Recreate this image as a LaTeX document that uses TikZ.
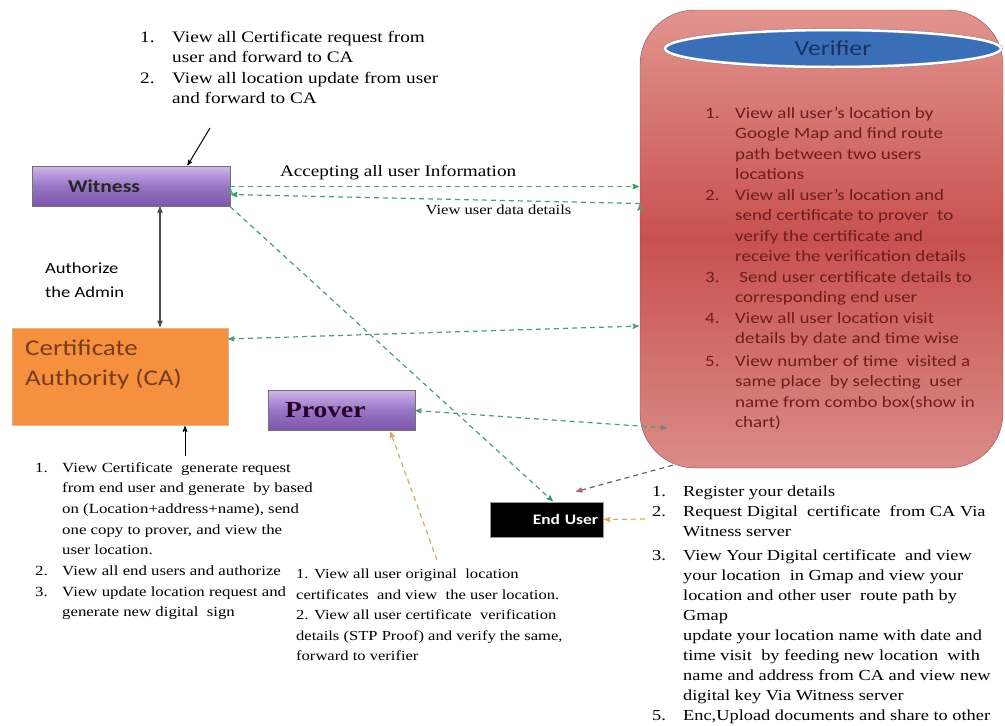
\documentclass[tikz,border=0pt]{standalone}
\usepackage{fontspec}
\setmainfont{Liberation Serif}[FakeStretch=1.2]
\setsansfont{Carlito}[FakeStretch=1.2]
\usepackage{tikz}
\usetikzlibrary{arrows, calc, shapes.geometric}
\definecolor{flowgreen}{HTML}{4E9A84}
\definecolor{tipgreen}{HTML}{22A060}
\definecolor{floworange}{HTML}{D9A860}
\definecolor{verifiertext}{HTML}{6E1C1C}
\definecolor{catext}{HTML}{7A3A1C}
\definecolor{violettop}{HTML}{CDB5E8}
\definecolor{violetmid}{HTML}{9873C6}
\definecolor{violetbot}{HTML}{7A55A8}
\definecolor{redtop}{HTML}{E2948F}
\definecolor{redmid}{HTML}{C8514E}
\definecolor{redbot}{HTML}{DA8C88}
\definecolor{verifierblue}{HTML}{3A6EB6}
\definecolor{verifierink}{HTML}{1A3260}
\newcommand{\nitem}[2][30pt]{\makebox[#1][l]{#2}}
\newcommand{\nskip}[1][30pt]{\hspace*{#1}}
\tikzset{serif list/.style={font=\fontsize{16}{20.5}\selectfont,align=left,inner sep=0pt,anchor=north west}}
\tikzset{sans list/.style={font=\sffamily\fontsize{15.8}{20.5}\selectfont,align=left,inner sep=0pt,anchor=north west}}
\tikzset{purple box/.style={draw=black!55,top color=violettop,bottom color=violetbot,middle color=violetmid,minimum height=40pt,inner ysep=0pt,align=left}}
\tikzset{flow/.style={draw=flowgreen,dashed,line width=1.2pt,dash pattern=on 5pt off 4pt}}

\begin{document}
\begin{tikzpicture}[x=1pt,y=-1pt,>=stealth',shorten >=1pt]
                    \useasboundingbox (0,0) rectangle (1005,726);

                    \node[draw=red!40!black!70,rounded corners=55pt,minimum width=363pt,minimum height=458pt,
                          top color=redtop,bottom color=redbot,middle color=redmid](V) at (821.5,239){};
                    \node[ellipse,draw=verifierink!60,double=white,double distance=2.5pt,fill=verifierblue,minimum width=336pt,minimum height=37pt,inner sep=0pt,
                          font=\sffamily\fontsize{21.5}{24}\selectfont,text=verifierink](VE) at (833,48.5){Verifier};
                    \node[sans list,text=verifiertext](Vt) at (705,107){%
                        \nitem{1.}View all user's location by\\
                        \nskip Google Map and find route\\
                        \nskip path between two users\\
                        \nskip locations\\
                        \nitem{2.}View all user's location and\\
                        \nskip send certificate to prover\ \ to\\
                        \nskip verify the certificate and\\
                        \nskip receive the verification details\\
                        \nitem{3.}\ Send user certificate details to\\
                        \nskip corresponding end user\\
                        \nitem{4.}View all user location visit\\
                        \nskip details by date and time wise\\[2pt]
                        \nitem{5.}View number of time\ \ visited a\\
                        \nskip same place\ \ by selecting\ \ user\\
                        \nskip name from combo box(show in\\
                        \nskip chart)};

                    \node[purple box,minimum width=198pt,text width=126pt,inner xsep=36pt,
                          font=\sffamily\bfseries\fontsize{18}{20}\selectfont,text=black!85](W) at (131,186.5){Witness};
                    \node[serif list](Wt) at (140,31){%
                        \nitem[32pt]{1.}View all Certificate request from\\
                        \nskip[32pt]user and forward to CA\\
                        \nitem[32pt]{2.}View all location update from user\\
                        \nskip[32pt]and forward to CA};
                    \coordinate (wnote) at (210,128);

                    \node[draw=orange!60!black!40,fill={rgb,255:red,245;green,145;blue,62},minimum width=216pt,minimum height=97pt](CA) at (120,376.5){};
                    \node[anchor=west,inner sep=0pt,align=left,text=catext,font=\sffamily\fontsize{22.5}{30}\selectfont](CAt) at (25,365){Certificate\\Authority (CA)};
                    \node[sans list,font=\sffamily\fontsize{15.5}{24}\selectfont](Adm) at (45,263){Authorize\\the Admin};
                    \node[serif list,font=\fontsize{14}{20.7}\selectfont](CAl) at (35,462){%
                        \nitem[27pt]{1.}View Certificate\ \ generate request\\
                        \nskip[27pt]from end user and generate\ \ by based\\
                        \nskip[27pt]on (Location+address+name), send\\
                        \nskip[27pt]one copy to prover, and view the\\
                        \nskip[27pt]user location.\\
                        \nitem[27pt]{2.}View all end users and authorize\\
                        \nitem[27pt]{3.}View update location request and\\
                        \nskip[27pt]generate new digital\ \ sign};
                    \coordinate (canote) at (185,456);

                    \node[purple box,minimum width=147pt,text width=113pt,inner xsep=17pt,
                          font=\bfseries\fontsize{23}{25}\selectfont,text=violet!30!black](P) at (341.5,410.5){Prover};
                    \node[serif list,font=\fontsize{13.8}{20.5}\selectfont](Pt) at (296,569){%
                        1. View all user original\ \ location\\
                        certificates\ \ and view\ \ the user location.\\
                        2. View all user certificate\ \ verification\\
                        details (STP Proof) and verify the same,\\
                        forward to verifier};

                    \node[fill=black,draw=black!40,minimum width=113pt,minimum height=35pt,text width=103pt,inner xsep=5pt,align=right,
                          font=\sffamily\bfseries\fontsize{14.5}{17}\selectfont,text=white](EU) at (546.5,519.5){End User};
                    \node[serif list,font=\fontsize{15.3}{20}\selectfont](EUt) at (652,486){%
                        \nitem[31pt]{1.}Register your details\\
                        \nitem[31pt]{2.}Request Digital\ \ certificate\ \ from CA Via\\
                        \nskip[31pt]Witness server\\[4pt]
                        \nitem[31pt]{3.}View Your Digital certificate\ \ and view\\
                        \nskip[31pt]your location\ \ in Gmap and view your\\
                        \nskip[31pt]location and other user\ \ route path by\\
                        \nskip[31pt]Gmap\\
                        \nskip[31pt]update your location name with date and\\
                        \nskip[31pt]time visit\ \ by feeding new location\ \ with\\
                        \nskip[31pt]name and address from CA and view new\\
                        \nskip[31pt]digital key Via Witness server\\
                        \nitem[31pt]{5.}Enc,Upload documents and share to other};
                    \coordinate (vin) at (668,428);

                    \draw[->,line width=1pt] (wnote) -- ($(W.north)+(56,0)$);
                    \draw[<->,line width=1.2pt,black!70] ($(W.south)+(29,0)$) -- ($(CA.north)+(40,0)$);
                    \draw[->,line width=1pt] (canote) -- ($(CA.south)+(65,0)$);

                    \path[flow,->] (W.east) edge[-{stealth'[tipgreen]}] node[pos=0.41,above=3pt,text=black,font=\fontsize{16}{18}\selectfont]{Accepting all user Information} (W.east -| V.west);
                    \path[flow,->] ($(W.east -| V.west)+(0,17)$) edge[-{stealth'[tipgreen]}] node[pos=0.345,below=1pt,text=black,font=\fontsize{13.8}{16}\selectfont]{View user data details} ($(W.east)+(0,8)$);
                    \draw[flow,{stealth'}-{stealth'}] ($(CA.east)+(0,-37.5)$) -- ($(V.west)+(0,87)$);
                    \draw[flow,{stealth'}-{stealth'[gray]}] (P.east) -- (vin);
                    \draw[flow,-{stealth'[tipgreen]}] (W.south east) -- ($(EU.north)+(7,0)$);
                    \draw[flow,draw=black!60,-{stealth'[red!40!black!60]}] ($(V.south west)+(33,-3)$) -- ($(EU.north east)+(-28,-10)$);
                    \draw[flow,draw=floworange,->] ($(EUt.north west)+(-7,33)$) -- (EU.east);
                    \draw[flow,draw=floworange,->] ($(Pt.north west)+(141,-9)$) -- (P.south -| 390,0);

                \end{tikzpicture}
\end{document}
